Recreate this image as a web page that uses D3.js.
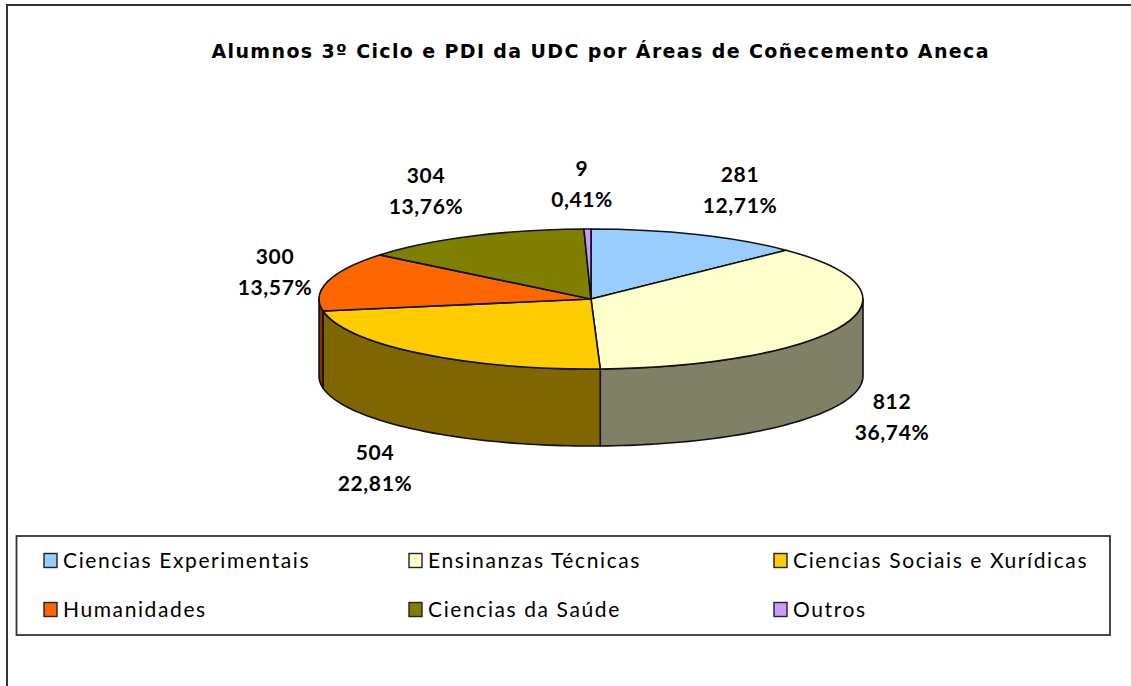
<!DOCTYPE html>
<html>
<head>
<meta charset="utf-8">
<script src="https://cdn.jsdelivr.net/npm/d3@7"></script>
<style>
  html, body { margin: 0; padding: 0; background: #fff; }
  text { font-family: "Lato", "Open Sans", sans-serif; fill: #000; }
</style>
</head>
<body>
<div id="app"></div>
<script>
const categories = ["Ciencias Experimentais", "Ensinanzas Técnicas", "Ciencias Sociais e Xurídicas", "Humanidades", "Ciencias da Saúde", "Outros"];
const values = [281, 812, 504, 300, 304, 9];
const percents = ["12,71%", "36,74%", "22,81%", "13,57%", "13,76%", "0,41%"];
const colors = ["#99ccff", "#ffffcc", "#ffcc00", "#ff6600", "#808000", "#cc99ff"];
const sideColors = ["#4d6680", "#808066", "#806600", "#803300", "#404000", "#664d80"];
const labelSpots = [[740, 192], [892, 419], [375, 470], [275, 274], [426, 193], [582, 186]];

const width = 1131, height = 686;
const cx = 591, cy = 299, rx = 272, ry = 70, depth = 77;

const svg = d3.select("#app").append("svg")
    .attr("width", width)
    .attr("height", height)
    .style("display", "block");

// outer frame, the original is cropped so only left and top lines show
svg.append("path")
    .attr("d", `M7,${height}V5H${width}`)
    .attr("fill", "none")
    .attr("stroke", "#333")
    .attr("stroke-width", 2);

svg.append("text")
    .attr("x", 600).attr("y", 58)
    .attr("text-anchor", "middle")
    .attr("font-family", "DejaVu Sans")
    .style("font-family", "'DejaVu Sans'")
    .attr("font-size", 19)
    .attr("font-weight", 700)
    .attr("textLength", 777)
    .text("Alumnos 3º Ciclo e PDI da UDC por Áreas de Coñecemento Aneca");

const pie = d3.pie().sort(null).value(d => d);
const slices = pie(values);

// point on the rim of the tilted pie, angle measured clockwise from the top
const rim = t => [rx * Math.sin(t), -ry * Math.cos(t)];

const chart = svg.append("g").attr("transform", `translate(${cx},${cy})`);

// side wall, only the front half of the pie (90deg to 270deg) can be seen
const wallLine = d3.line();
const walls = slices
    .map((s, i) => ({ i, a0: Math.max(s.startAngle, Math.PI / 2), a1: Math.min(s.endAngle, 3 * Math.PI / 2) }))
    .filter(d => d.a1 > d.a0);

chart.selectAll("path.wall")
    .data(walls)
    .join("path")
    .classed("wall", true)
    .attr("d", d => {
        const angles = d3.range(0, 61).map(k => d.a0 + (d.a1 - d.a0) * k / 60);
        const top = angles.map(rim);
        const bottom = angles.map(rim).reverse().map(p => [p[0], p[1] + depth]);
        return wallLine(top.concat(bottom)) + "Z";
    })
    .attr("fill", d => sideColors[d.i])
    .attr("stroke", "#111")
    .attr("stroke-width", 1.6)
    .attr("stroke-linejoin", "round");

// top face: a unit d3.arc squashed into the ellipse
const arc = d3.arc().innerRadius(0).outerRadius(1);
chart.append("g")
    .attr("transform", `scale(${rx},${ry})`)
    .selectAll("path")
    .data(slices)
    .join("path")
    .attr("d", arc)
    .attr("fill", (d, i) => colors[i])
    .attr("stroke", "#111")
    .attr("stroke-width", 1.6)
    .attr("vector-effect", "non-scaling-stroke")
    .attr("stroke-linejoin", "round");

// data labels
const labels = svg.append("g")
    .selectAll("g")
    .data(slices)
    .join("g")
    .attr("transform", (d, i) => `translate(${labelSpots[i][0]},${labelSpots[i][1]})`)
    .attr("text-anchor", "middle")
    .attr("font-size", 21)
    .attr("letter-spacing", 0.6);

labels.append("text").attr("y", -10).attr("font-weight", 700).text(d => d.value);
labels.append("text").attr("y", 21).attr("font-weight", 700).text((d, i) => percents[i]);

// legend
svg.append("rect")
    .attr("x", 16.5).attr("y", 536)
    .attr("width", 1093.5).attr("height", 99)
    .attr("fill", "#fff")
    .attr("stroke", "#333")
    .attr("stroke-width", 1.8);

const legendX = d3.scalePoint().domain([0, 1, 2]).range([44, 774]);
const legendY = d3.scalePoint().domain([0, 1]).range([561, 610]);

const legend = svg.append("g")
    .selectAll("g")
    .data(categories)
    .join("g")
    .attr("transform", (d, i) => `translate(${legendX(i % 3)},${legendY(Math.floor(i / 3))})`);

legend.append("rect")
    .attr("x", 0).attr("y", -7.5)
    .attr("width", 13).attr("height", 14)
    .attr("fill", (d, i) => colors[i])
    .attr("stroke", "#222")
    .attr("stroke-width", 1.4);

legend.append("text")
    .attr("x", 19).attr("y", 7)
    .attr("font-size", 21)
    .attr("letter-spacing", 1.6)
    .text(d => d);
</script>
</body>
</html>
